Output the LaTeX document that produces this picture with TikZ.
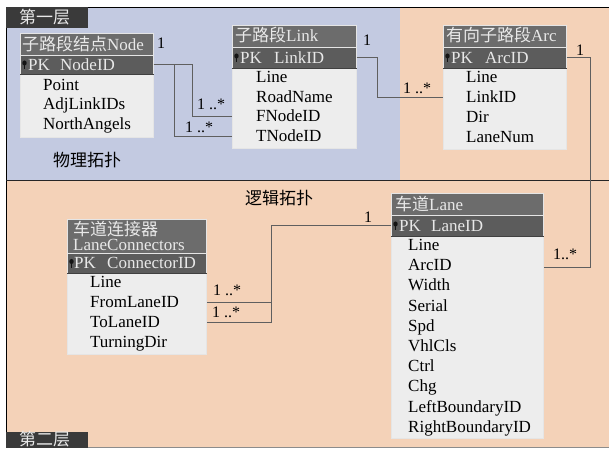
\documentclass[tikz,border=0pt]{standalone}
\usepackage{fontspec}
\setmainfont{Liberation Serif}
\newfontfamily\cjk{Noto Sans CJK SC}
\usetikzlibrary{calc}
\definecolor{bgblue}{RGB}{195,202,225}
\definecolor{bgorange}{RGB}{244,210,184}
\definecolor{tgray}{RGB}{108,108,108}
\definecolor{pkgray}{RGB}{92,92,92}
\definecolor{bodygray}{RGB}{237,237,237}
\definecolor{ttext}{RGB}{232,232,232}
\definecolor{laygray}{RGB}{58,58,58}
\definecolor{lineg}{RGB}{95,95,95}
\definecolor{keyc}{RGB}{20,20,20}
\begin{document}
\begin{tikzpicture}[x=1pt,y=-1pt,
  box/.style={draw=white!80!gray, line width=0.6pt, inner sep=0pt, anchor=north west},
  tbar/.style={box, fill=tgray},
  pkbar/.style={box, fill=pkgray},
  bodybox/.style={box, fill=bodygray},
  fld/.style={anchor=west, inner sep=0pt, text height=11pt, text depth=0pt, font=\fontsize{17}{17}\selectfont, text=black},
  ttl/.style={anchor=west, inner sep=0pt, text height=12pt, text depth=0pt, font=\fontsize{17}{17}\selectfont, text=ttext},
  pkt/.style={fld, text=ttext},
  lbl/.style={anchor=west, inner sep=0pt, text height=11pt, text depth=0pt, font=\fontsize{16}{16}\selectfont, text=black},
  layer/.style={fill=laygray, inner sep=0pt, anchor=north west},
  conn/.style={draw=lineg, line width=0.8pt},
  pksep/.style={draw=black!75, line width=0.8pt}
]
\useasboundingbox (0,0) rectangle (609,450);
\fill[white] (0,0) rectangle (609,450);
\fill[bgorange] (6,7) rectangle (609,447);
\fill[bgblue] (6,7) rectangle (400,180);
\draw[black, line width=0.9pt] (609,7) -- (6,7) -- (6,447);
\draw[black!45, line width=0.8pt] (6,447) -- (609,447);
\draw[black!85, line width=0.8pt] (6,180) -- (609,180);

% layer labels
\node[layer, minimum width=82pt, minimum height=21pt] (lay1) at (6,7) {};
\node[ttl] (lay1t) at (19,17) {\cjk 第一层};
\node[layer, minimum width=82pt, minimum height=16pt] (lay2) at (6,432) {};
\node[ttl] (lay2t) at (19,439) {\cjk 第二层};

\node[ttl, text=black] (phys) at (53,160) {\cjk 物理拓扑};
\node[ttl, text=black] (logi) at (245,198) {\cjk 逻辑拓扑};

% ---- Node table
\node[tbar, minimum width=133pt, minimum height=22pt] (nodeT) at (20,33) {};
\node[pkbar, minimum width=133pt, minimum height=19pt] (nodeP) at (20,55) {};
\node[bodybox, minimum width=133pt, minimum height=63pt] (nodeB) at (20,74) {};
\draw[pksep] (nodeP.south west) -- (nodeP.south east);
\node[ttl] (nodeTt) at (22,44) {{\cjk 子路段结点}Node};
\node[pkt] (nodePK) at (28,65) {PK};
\node[pkt] (nodeID) at (60,65) {NodeID};
\node[fld] (ndPoint) at (43,85) {Point};
\node[fld] (ndAdj) at (43,104) {AdjLinkIDs};
\node[fld] (ndNorth) at (43,124) {NorthAngels};

% ---- Link table
\node[tbar, minimum width=124pt, minimum height=22pt] (linkT) at (232,25) {};
\node[pkbar, minimum width=124pt, minimum height=21pt] (linkP) at (232,47) {};
\node[bodybox, minimum width=124pt, minimum height=80pt] (linkB) at (232,68) {};
\draw[pksep] (linkP.south west) -- (linkP.south east);
\node[ttl] (linkTt) at (235,35) {{\cjk 子路段}Link};
\node[pkt] (linkPK) at (240,58) {PK};
\node[pkt] (linkID) at (274,58) {LinkID};
\node[fld] (lkLine) at (256,77) {Line};
\node[fld] (lkRoad) at (256,97) {RoadName};
\node[fld] (lkF) at (256,116) {FNodeID};
\node[fld] (lkT) at (256,136) {TNodeID};

% ---- Arc table
\node[tbar, minimum width=123pt, minimum height=22pt] (arcT) at (443,25) {};
\node[pkbar, minimum width=123pt, minimum height=21pt] (arcP) at (443,47) {};
\node[bodybox, minimum width=123pt, minimum height=81pt] (arcB) at (443,68) {};
\draw[pksep] (arcP.south west) -- (arcP.south east);
\node[ttl] (arcTt) at (446,35) {{\cjk 有向子路段}Arc};
\node[pkt] (arcPK) at (451,58) {PK};
\node[pkt] (arcID) at (485,58) {ArcID};
\node[fld] (acLine) at (466,77) {Line};
\node[fld] (acLink) at (466,97) {LinkID};
\node[fld] (acDir) at (466,117) {Dir};
\node[fld] (acLane) at (466,137) {LaneNum};

% ---- Lane table
\node[tbar, minimum width=152pt, minimum height=22pt] (laneT) at (391,193) {};
\node[pkbar, minimum width=152pt, minimum height=21pt] (laneP) at (391,215) {};
\node[bodybox, minimum width=152pt, minimum height=202pt] (laneB) at (391,236) {};
\draw[pksep] (laneP.south west) -- (laneP.south east);
\node[ttl] (laneTt) at (395,204) {{\cjk 车道}Lane};
\node[pkt] (lanePK) at (399,226) {PK};
\node[pkt] (laneID) at (431,226) {LaneID};
\node[fld] (laLine) at (408,245) {Line};
\node[fld] (laArc) at (408,265.2) {ArcID};
\node[fld] (laWidth) at (408,285.4) {Width};
\node[fld] (laSerial) at (408,305.6) {Serial};
\node[fld] (laSpd) at (408,325.8) {Spd};
\node[fld] (laVhl) at (408,346) {VhlCls};
\node[fld] (laCtrl) at (408,366.2) {Ctrl};
\node[fld] (laChg) at (408,386.4) {Chg};
\node[fld] (laLeft) at (408,406.6) {LeftBoundaryID};
\node[fld] (laRight) at (408,426.8) {RightBoundaryID};

% ---- LaneConnectors table
\node[tbar, minimum width=139pt, minimum height=34pt] (lcT) at (67,219) {};
\node[pkbar, minimum width=139pt, minimum height=20pt] (lcP) at (67,253) {};
\node[bodybox, minimum width=139pt, minimum height=81pt] (lcB) at (67,273) {};
\draw[pksep] (lcP.south west) -- (lcP.south east);
\node[ttl] (lcTt1) at (73,229) {\cjk 车道连接器};
\node[ttl] (lcTt2) at (73,244) {LaneConnectors};
\node[pkt] (lcPK) at (74,263) {PK};
\node[pkt] (lcID) at (107,263) {ConnectorID};
\node[fld] (lcLine) at (90,282) {Line};
\node[fld] (lcFrom) at (90,302) {FromLaneID};
\node[fld] (lcTo) at (90,322) {ToLaneID};
\node[fld] (lcTurn) at (90,342) {TurningDir};

% key icons
\foreach \k in {nodeP,linkP,arcP,laneP,lcP}{
  \fill[keyc] ($(\k.west)+(4.5,-1.8)$) ellipse (2.2pt and 2.6pt);
  \draw[keyc, line width=1.2pt] ($(\k.west)+(4.5,0)$) -- ++(0,4.5);
}

% ---- connectors
\draw[conn] (nodeP.east) -- ++(39,0) |- (lkF -| linkB.west);
\draw[conn] (nodeP.east) -- ++(21,0) |- (lkT -| linkB.west);
\draw[conn] (linkP.east) -- ++(21,0) |- (acLink -| arcB.west);
\draw[conn] (arcP.east) -- ++(24,0) |- ($(laArc -| laneB.east)+(0,2)$);
\draw[conn] (laneP.west) -- ++(-120,0) |- (lcTo -| lcB.east);
\draw[conn] (laneP.west) -- ++(-120,0) |- (lcFrom -| lcB.east);

% ---- multiplicity labels
\node[lbl] (m1) at (157,43) {1};
\node[lbl] (m2) at (197,104) {1 ..*};
\node[lbl] (m3) at (185,127) {1 ..*};
\node[lbl] (m4) at (363,40) {1};
\node[lbl] (m5) at (403,88) {1 ..*};
\node[lbl] (m6) at (576,50) {1};
\node[lbl] (m7) at (553,254) {1..*};
\node[lbl] (m8) at (364,217) {1};
\node[lbl] (m9) at (213,290) {1 ..*};
\node[lbl] (m10) at (212,312) {1 ..*};
\end{tikzpicture}
\end{document}
